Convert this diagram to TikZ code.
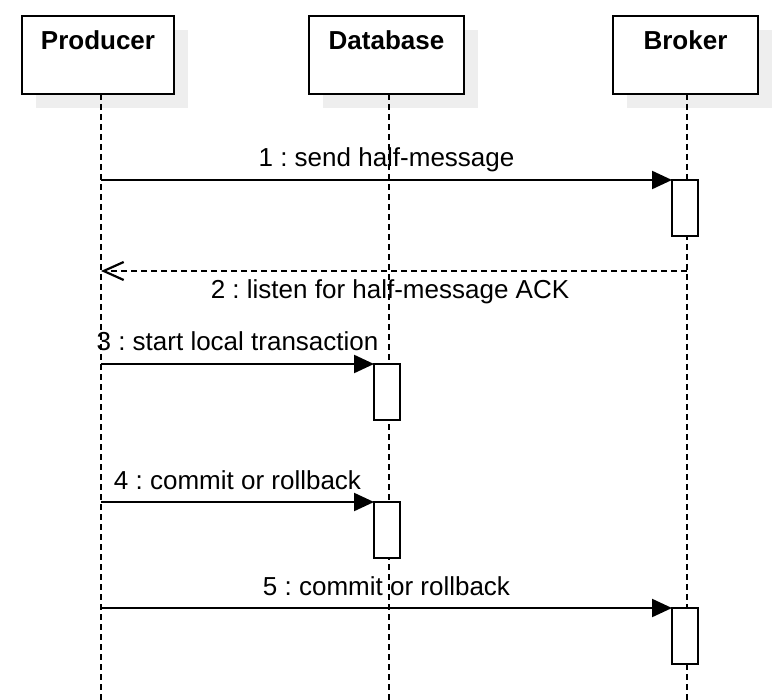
\documentclass[tikz,border=0pt]{standalone}
\usepackage{fontspec}
\setmainfont{Liberation Sans}
\usetikzlibrary{arrows.meta,shadows,calc}
\definecolor{shadowgray}{HTML}{EEEEEE}
\frenchspacing
\begin{document}
\begin{tikzpicture}[x=1pt,y=-1pt,
  actor/.style={draw, line width=2.2pt, fill=white, inner sep=0pt, outer sep=0pt, align=center,
    text height=34pt, text depth=44pt, font=\fontsize{26}{30}\selectfont\bfseries,
    drop shadow={shadow xshift=14pt, shadow yshift=-14pt, fill=shadowgray, opacity=1}},
  life/.style={line width=2.2pt, dash pattern=on 6pt off 4pt},
  act/.style={draw, line width=2.2pt, fill=white, minimum width=26pt, minimum height=56pt, inner sep=0pt, outer sep=0pt},
  msg/.style={line width=2.2pt, -{Triangle[length=20pt,width=18pt]}},
  reply/.style={line width=2.2pt, dash pattern=on 6pt off 4pt, -{Straight Barb[length=20pt,width=18pt]}},
  lbl/.style={font=\fontsize{26}{30}\selectfont, inner sep=0pt, anchor=base}]
\useasboundingbox (0,0) rectangle (784,700);

% actors
\node[actor, text width=152pt] (prod) at (98,55) {Producer};
\node[actor, text width=155pt] (db) at (386.5,55) {Database};
\node[actor, text width=145pt] (brk) at (685.5,55) {Broker};

% lifelines
\coordinate (pT) at (101,94);  \coordinate (pB) at (101,700);
\coordinate (dT) at (389,94);  \coordinate (dB) at (389,700);
\coordinate (bT) at (687,94);  \coordinate (bB) at (687,700);
\draw[life] (pT) -- (pB);
\draw[life] (dT) -- (dB);
\draw[life] (bT) -- (bB);

% message start points
\coordinate (m1) at (101,180);
\coordinate (m2s) at (687,271);
\coordinate (m2e) at (101,271);
\coordinate (m3) at (101,364);
\coordinate (m4) at (101,502);
\coordinate (m5) at (101,608);

% activation boxes
\node[act] (a1) at (685,208) {};
\node[act] (a3) at (387,392) {};
\node[act] (a4) at (387,530) {};
\node[act] (a5) at (685,636) {};

% messages
\draw[msg] (m1) -- (a1.north west);
\draw[reply] (m2s) -- (m2e);
\draw[msg] (m3) -- (a3.north west);
\draw[msg] (m4) -- (a4.north west);
\draw[msg] (m5) -- (a5.north west);

% labels
\node[lbl] (l1) at ($(m1)!0.5!(a1.north west)+(0,-13)$) {1 : send half-message};
\node[lbl] (l2) at ($(m2s)!0.5!(m2e)+(-4,28)$) {2 : listen for half-message ACK};
\node[lbl] (l3) at ($(m3)!0.5!(a3.north west)+(0,-13)$) {3 : start local transaction};
\node[lbl] (l4) at ($(m4)!0.5!(a4.north west)+(0,-13)$) {4 : commit or rollback};
\node[lbl] (l5) at ($(m5)!0.5!(a5.north west)+(0,-13)$) {5 : commit or rollback};
\end{tikzpicture}
\end{document}
